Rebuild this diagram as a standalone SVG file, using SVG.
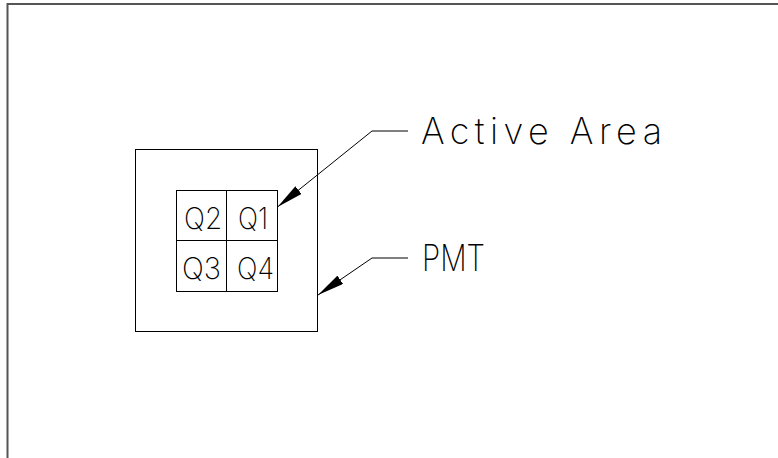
<svg xmlns="http://www.w3.org/2000/svg" width="778" height="458" viewBox="0 0 778 458">
  <style>
    .ln { fill: none; stroke: #000; stroke-width: 1; }
    .frame { fill: none; stroke: #555; stroke-width: 2; }
    .lbl { font-family: Inter, "Liberation Sans", sans-serif; font-weight: 200; fill: #000; }
    .q { font-size: 30px; }
    .big { font-size: 36px; }
  </style>
  <defs>
    <marker id="arrow" markerUnits="userSpaceOnUse" markerWidth="28" markerHeight="10" refX="27" refY="5" orient="auto" viewBox="0 0 28 10">
      <path d="M0,0 L27,5 L0,10 Z" fill="#000"/>
    </marker>
  </defs>
  <rect width="778" height="458" fill="#fff"/>
  <path class="frame" d="M7.5 458 V4 H778"/>

  <g id="pmt">
    <rect class="ln" x="135.5" y="149.5" width="182" height="182"/>
  </g>
  <g id="active-area">
    <rect class="ln" x="176.5" y="190.5" width="101" height="101"/>
    <line class="ln" x1="226.5" y1="190.5" x2="226.5" y2="291.5"/>
    <line class="ln" x1="176.5" y1="240.5" x2="277.5" y2="240.5"/>
  </g>
  <g id="q2"><text class="lbl q" x="184" y="229" textLength="38" lengthAdjust="spacingAndGlyphs">Q2</text></g>
  <g id="q1"><text class="lbl q" x="238" y="229" textLength="30" lengthAdjust="spacingAndGlyphs">Q1</text></g>
  <g id="q3"><text class="lbl q" x="182" y="279" textLength="39" lengthAdjust="spacingAndGlyphs">Q3</text></g>
  <g id="q4"><text class="lbl q" x="237" y="279" textLength="37" lengthAdjust="spacingAndGlyphs">Q4</text></g>

  <g id="label-active-area"><text class="lbl big" x="421" y="144" textLength="241" lengthAdjust="spacing">Active Area</text></g>
  <g id="label-pmt"><text class="lbl big" x="422" y="271" textLength="63" lengthAdjust="spacingAndGlyphs">PMT</text></g>

  <g id="connectors">
    <polyline class="ln" points="408,131 372,131 277.5,207" marker-end="url(#arrow)"/>
    <polyline class="ln" points="408,258 372,258 318,295" marker-end="url(#arrow)"/>
  </g>
</svg>
